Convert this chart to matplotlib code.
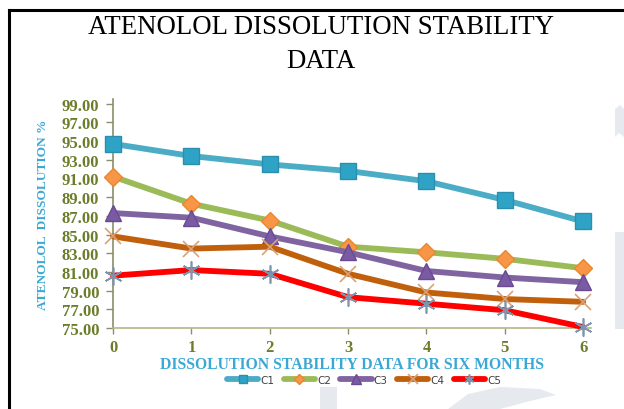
import matplotlib
matplotlib.use("Agg")
import matplotlib.pyplot as plt
from matplotlib.lines import Line2D
from matplotlib.patches import Polygon

months = [0, 1, 2, 3, 4, 5, 6]
series_names = ["C1", "C2", "C3", "C4", "C5"]
c1 = [94.7, 93.4, 92.5, 91.8, 90.7, 88.7, 86.4]
c2 = [91.2, 88.3, 86.5, 83.7, 83.1, 82.4, 81.4]
c3 = [87.3, 86.8, 84.8, 83.1, 81.1, 80.4, 79.9]
c4 = [84.8, 83.5, 83.7, 80.8, 78.8, 78.1, 77.8]
c5 = [80.6, 81.2, 80.8, 78.3, 77.6, 76.9, 75.1]
yticks = [75, 77, 79, 81, 83, 85, 87, 89, 91, 93, 95, 97, 99]

styles = [
    dict(color="#4bacc6", marker="s", ms=11, mfc="#2fa3c6", mec="#2a8fae", mew=1.0),
    dict(color="#9bbb59", marker="D", ms=9, mfc="#f79646", mec="#e9872e", mew=1.0),
    dict(color="#8064a2", marker="^", ms=12, mfc="#7a5aa3", mec="#6a4a93", mew=1.0),
    dict(color="#c0600c", marker="x", ms=12, mfc="none", mec="#d9a27a", mew=1.2),
    dict(color="#ff0000", marker=(6, 2, 0), ms=13, mfc="none", mec="#7e95ad", mew=1.2),
]

olive = "#6b7d2a"
aqua = "#3aa8d4"
W, H = 624, 410


def px(x, y):
    return (x / W, 1 - y / H)


fig = plt.figure(figsize=(6.24, 4.10), dpi=100)
fig.patch.set_facecolor("white")

# faint watermark fragments
wm = "#e6eaef"
for pts in [
    [(615, 233), (624, 233), (624, 330), (615, 330)],
    [(615, 110), (620, 106), (624, 110), (624, 138), (619, 134), (615, 138)],
    [(320, 388), (337, 388), (337, 410), (320, 410)],
    [(448, 410), (468, 395), (500, 388), (540, 390), (556, 396), (530, 402), (500, 410)],
]:
    fig.add_artist(Polygon([px(*p) for p in pts], closed=True, facecolor=wm,
                           edgecolor="none", zorder=0))

# page table border (top and left)
fig.add_artist(Line2D([9/W, 1.0], [1 - 11/H, 1 - 11/H], color="black", lw=2.2))
fig.add_artist(Line2D([9/W, 9/W], [0.0, 1 - 11/H], color="black", lw=2.2))

# title
fig.text(0.514, 1 - 28/H, "ATENOLOL DISSOLUTION STABILITY", ha="center", va="center",
         fontsize=19.3, family="Liberation Serif", color="black")
fig.text(0.514, 1 - 62/H, "DATA", ha="center", va="center",
         fontsize=19.3, family="Liberation Serif", color="black")

ax = fig.add_axes([113/W, 81/H, 478/W, 229/H])
data = [c1, c2, c3, c4, c5]
for name, vals, st in zip(series_names, data, styles):
    ax.plot(months, vals, lw=4.2, solid_capstyle="round", label=name,
            clip_on=False, zorder=3, **st)

ax.set_xlim(0, 6.1)
ax.set_ylim(75, 99.5)
ax.set_yticks(yticks)
ax.set_yticklabels([f"{v:.2f}" for v in yticks])
ax.set_xticks(months)
ax.set_xticklabels([str(m) for m in months])
for lab in ax.get_yticklabels() + ax.get_xticklabels():
    lab.set_family("Liberation Serif")
    lab.set_fontweight("bold")
    lab.set_color(olive)
for lab in ax.get_yticklabels():
    lab.set_fontsize(12)
for lab in ax.get_xticklabels():
    lab.set_fontsize(12)
ax.tick_params(axis="y", direction="out", length=5, width=1, color="#8a8f6a", pad=5)
ax.tick_params(axis="x", direction="out", length=4, width=1, color="#8a8f6a", pad=4)
for s in ["top", "right"]:
    ax.spines[s].set_visible(False)
ax.spines["left"].set_color("#8a8f6a")
ax.spines["bottom"].set_color("#b5b58a")
ax.spines["left"].set_linewidth(1.2)
ax.spines["bottom"].set_linewidth(1.2)
ax.set_facecolor("none")

ax.set_ylabel("ATENOLOL  DISSOLUTION %", family="Liberation Serif", fontweight="bold",
              fontsize=9.6, color=aqua, labelpad=9)
ax.set_xlabel("DISSOLUTION STABILITY DATA FOR SIX MONTHS", family="Liberation Serif",
              fontweight="bold", fontsize=11.3, color=aqua, labelpad=1)

leg = fig.legend(loc="center", bbox_to_anchor=(364/W, 1 - 381/H), ncol=5,
                 frameon=False, fontsize=7.5, handlelength=3.0, handletextpad=0.2,
                 columnspacing=0.9, markerscale=0.55)
for t in leg.get_texts():
    t.set_color("#404040")

fig.savefig("out.png", dpi=100, facecolor="white")
